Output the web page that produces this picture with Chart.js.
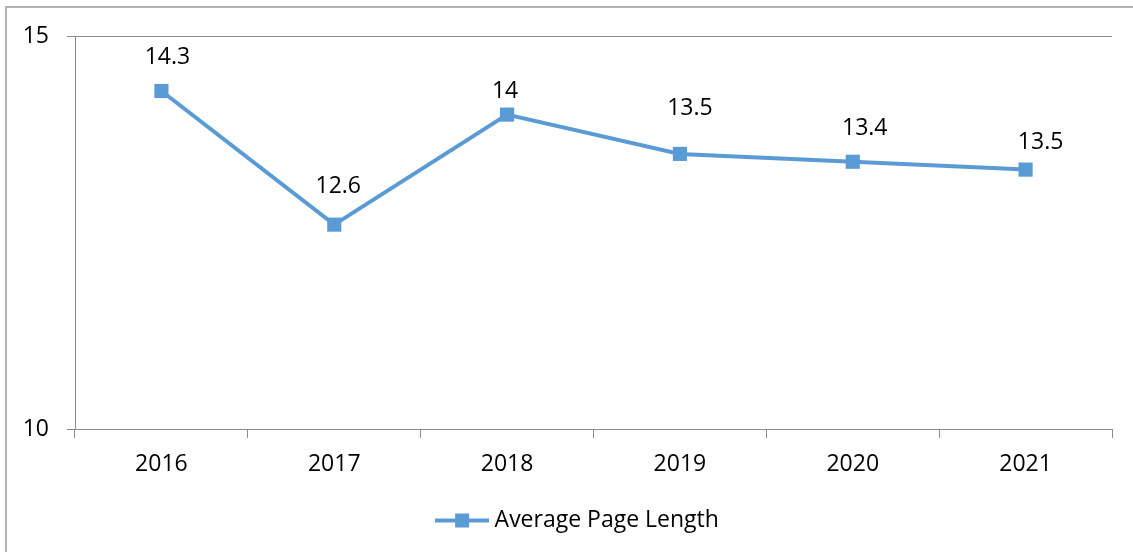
<!DOCTYPE html>
<html>
<head>
<meta charset="utf-8">
<script src="https://cdn.jsdelivr.net/npm/chart.js@4.4.1/dist/chart.umd.min.js"></script>
<style>
  html, body { margin: 0; padding: 0; background: #fff; overflow: hidden; }
  #wrap { position: relative; width: 1133px; height: 552px; }
  #frame { position: absolute; left: 5px; top: 6px; width: 1200px; height: 600px; border: 2px solid #b3b3b3; box-sizing: border-box; }
  canvas { position: absolute; left: 0; top: 0; }
</style>
</head>
<body>
<div id="wrap">
  <div id="frame"></div>
  <canvas id="pageLengthChart" width="1133" height="552"></canvas>
</div>
<script>
const years = ['2016', '2017', '2018', '2019', '2020', '2021'];
const avgPageLength = [14.3, 12.6, 14.0, 13.5, 13.4, 13.3];
const pointLabels = ['14.3', '12.6', '14', '13.5', '13.4', '13.5'];
const yTicks = [10, 15];

const blue = '#5B9BD5';
const axisGray = '#8c8c8c';
const fontFamily = '"Open Sans", "Noto Sans", sans-serif';

// legend marker: line with a square in the middle
const legendIcon = document.createElement('canvas');
legendIcon.width = 54;
legendIcon.height = 16;
(function () {
  const c = legendIcon.getContext('2d');
  c.strokeStyle = blue;
  c.lineWidth = 4;
  c.beginPath();
  c.moveTo(0, 8);
  c.lineTo(54, 8);
  c.stroke();
  c.fillStyle = blue;
  c.fillRect(20, 1, 14, 14);
})();

// value labels above each point, nudged like the original
const pointLabelPlugin = {
  id: 'pointLabels',
  afterLayout(chart, args, opts) {
    // excel centres the legend a bit further right
    if (chart.legend) {
      chart.legend.left += opts.legendShift;
      chart.legend.right += opts.legendShift;
    }
  },
  afterDatasetsDraw(chart, args, opts) {
    const ctx = chart.ctx;
    const meta = chart.getDatasetMeta(0);
    ctx.save();
    ctx.font = '23px ' + fontFamily;
    ctx.fillStyle = '#000';
    ctx.textAlign = 'center';
    ctx.textBaseline = 'middle';
    meta.data.forEach((pt, i) => {
      const off = opts.offsets[i] || [0, -32];
      ctx.fillText(pointLabels[i], pt.x + off[0], pt.y + off[1]);
    });
    ctx.restore();
  }
};

const ctx = document.getElementById('pageLengthChart').getContext('2d');
new Chart(ctx, {
  type: 'line',
  data: {
    labels: years,
    datasets: [{
      label: 'Average Page Length',
      data: avgPageLength,
      borderColor: blue,
      backgroundColor: blue,
      borderWidth: 4,
      tension: 0,
      pointStyle: 'rect',
      pointRadius: 10,
      pointHoverRadius: 10,
      pointBorderWidth: 0,
      pointBackgroundColor: blue,
      clip: false
    }]
  },
  options: {
    responsive: false,
    animation: false,
    layout: { padding: { left: 0, right: 21, top: 36, bottom: 10 } },
    scales: {
      x: {
        offset: true,
        grid: { offset: true, drawOnChartArea: false, color: axisGray, tickLength: 9 },
        border: { color: axisGray },
        ticks: { color: '#000', font: { family: fontFamily, size: 23 }, padding: 13 },
        afterFit(scale) { scale.height = 70; }
      },
      y: {
        min: 10,
        max: 15,
        afterBuildTicks(scale) { scale.ticks = yTicks.map(v => ({ value: v })); },
        grid: { color: axisGray, tickLength: 8 },
        border: { color: axisGray },
        ticks: { color: '#000', font: { family: fontFamily, size: 23 }, padding: 18 },
        afterFit(scale) { scale.width = 75; }
      }
    },
    plugins: {
      legend: {
        position: 'bottom',
        labels: {
          usePointStyle: true,
          pointStyle: legendIcon,
          pointStyleWidth: 42,
          color: '#000',
          font: { family: fontFamily, size: 23 },
          padding: 10
        }
      },
      tooltip: { enabled: false },
      pointLabels: {
        legendShift: 24,
        offsets: [[6, -34], [4, -38], [-2, -23], [10, -45], [12, -33], [15, -27]]
      }
    }
  },
  plugins: [pointLabelPlugin]
});
</script>
</body>
</html>
